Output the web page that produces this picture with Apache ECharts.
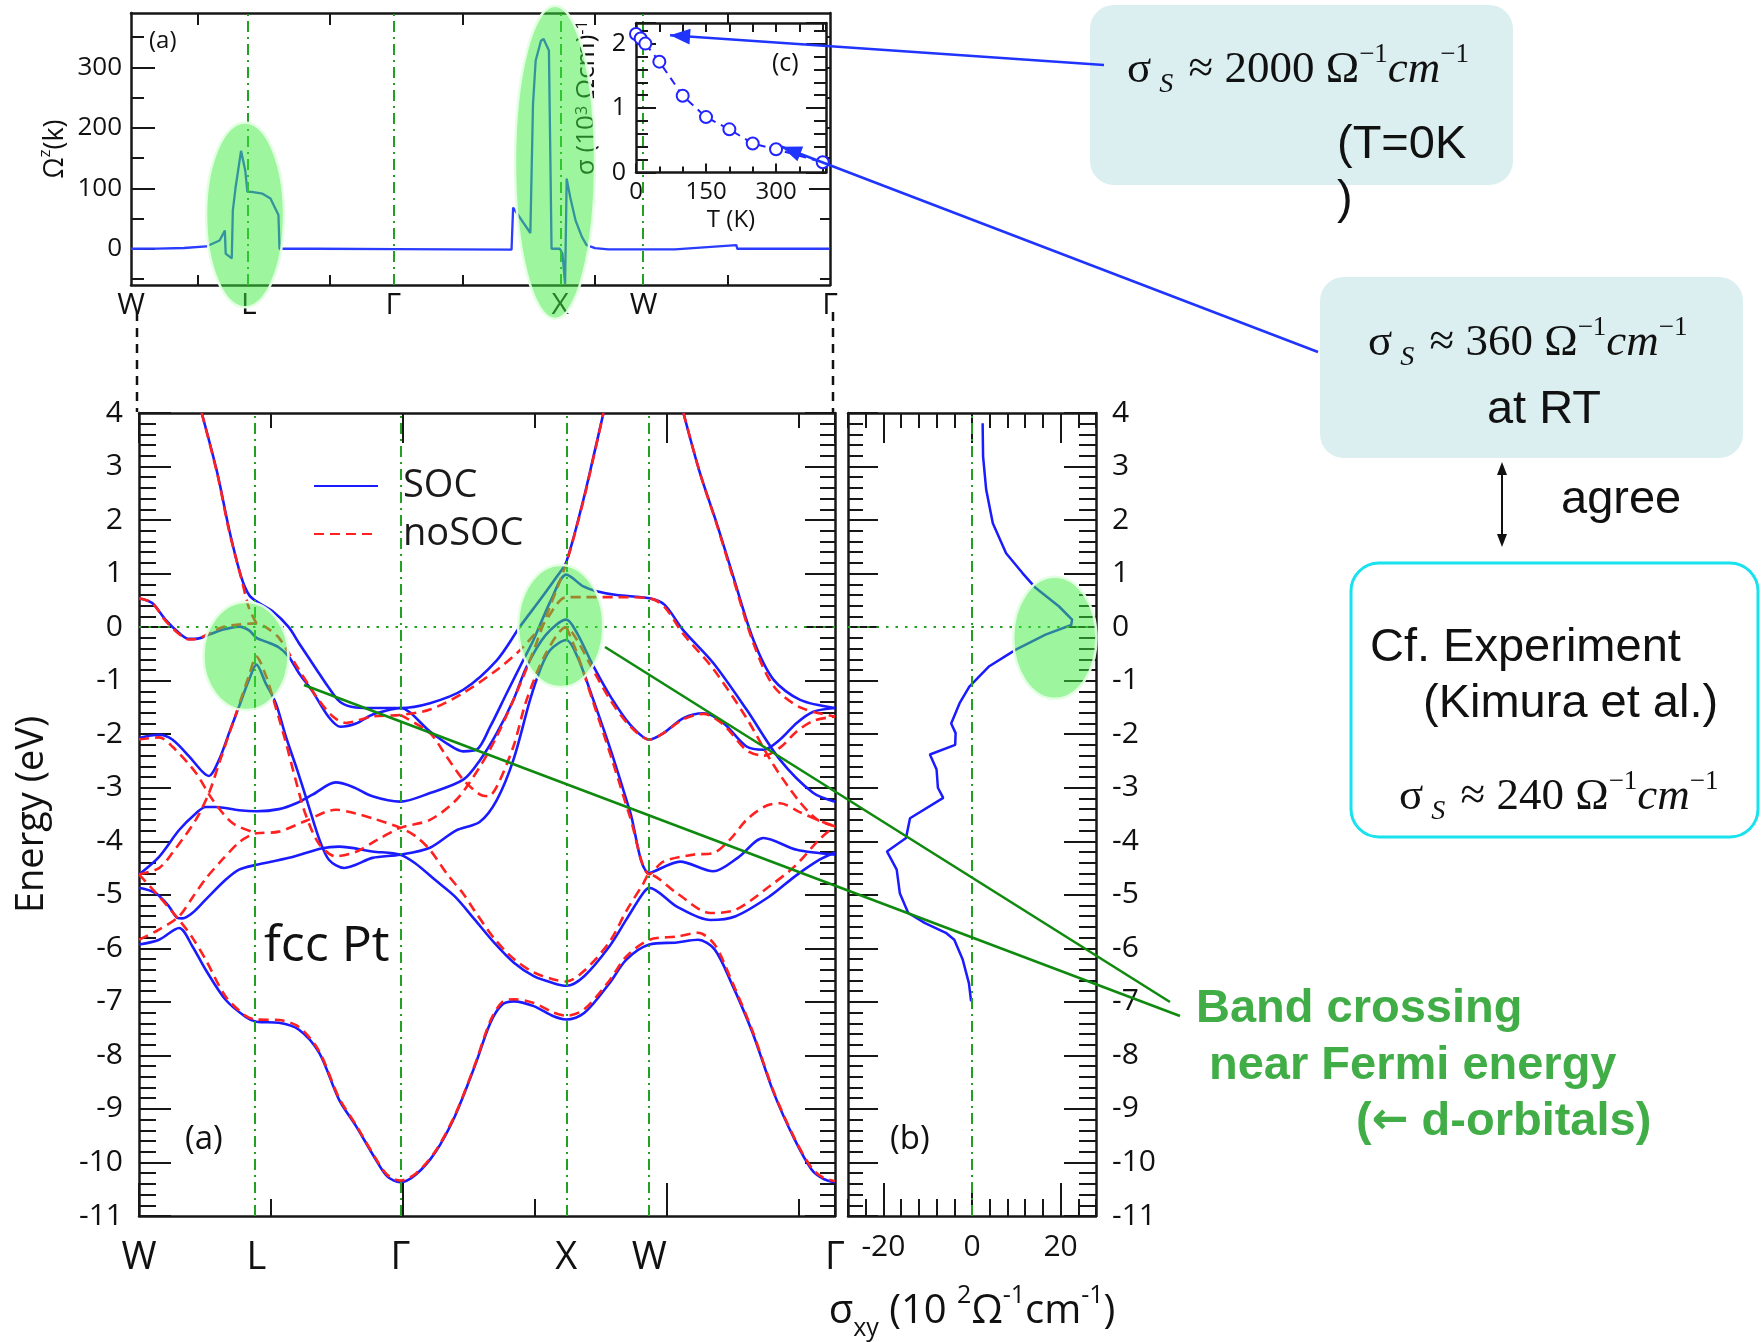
<!DOCTYPE html>
<html>
<head>
<meta charset="utf-8">
<title>fcc Pt: band structure, Berry curvature and spin Hall conductivity</title>
<script src="https://cdn.jsdelivr.net/npm/echarts@6.0.0/dist/echarts.min.js"></script>
<style>
html,body{margin:0;padding:0;background:#ffffff;}
#chart{width:1762px;height:1342px;}
</style>
</head>
<body>
<div id="chart"></div>
<script>
// ================= DATA =================
// high-symmetry path W-L-Γ-X-W-Γ (k in path-length units)
const kPoints = [0, 0.4447, 0.9895, 1.6185, 1.933, 2.636];
const kLabels = ['W', 'L', 'Γ', 'X', 'W', 'Γ'];
const kMax = 2.636;

// (a-top) Berry curvature Ω^z(k) along the path
const berryCurve = [[0,0],[0.10,0.3],[0.20,1.2],[0.284,3.8],[0.334,13.6],[0.354,30],[0.357,-8],[0.380,-16],[0.384,63],[0.394,100],[0.415,162],[0.420,165],[0.431,129],[0.439,94],[0.455,94],[0.496,91],[0.526,83],[0.556,56],[0.560,0],[0.70,0],[1.00,-0.5],[1.435,-1.6],[1.441,68],[1.506,26],[1.516,239],[1.526,311],[1.546,344],[1.556,347],[1.576,328],[1.586,0],[1.617,0],[1.627,-8],[1.637,-58],[1.643,116],[1.657,84],[1.677,46],[1.700,20],[1.718,6],[1.75,1],[1.80,-1],[2.051,-1],[2.055,2],[2.283,6],[2.286,0],[2.636,0]];

// (c) spin Hall conductivity vs temperature
const tempK  = [0, 10, 20, 50, 100, 150, 200, 250, 300, 400];
const sigmaS = [2.15, 2.08, 2.0, 1.72, 1.19, 0.86, 0.67, 0.45, 0.36, 0.16];

// (b) σxy(E)
const sxyE = [3.81, 3.19, 2.57, 1.94, 1.38, 1.01, 0.73, 0.39, 0.14, 0.04, -0.14, -0.42, -0.73, -1.11, -1.42, -1.80, -1.98, -2.20, -2.38, -2.66, -3.0, -3.19, -3.57, -3.94, -4.19, -4.53, -4.97, -5.34, -5.53, -5.71, -5.84, -6.21, -6.65, -6.99];
const sxyV = [2.4, 2.5, 3.2, 4.7, 7.7, 11.4, 14.4, 19.6, 22.6, 22.4, 16.6, 9.9, 3.9, -0.6, -2.8, -4.7, -3.7, -3.8, -9.5, -8.0, -7.7, -6.5, -14.0, -14.9, -19.2, -17.0, -16.3, -14.4, -10.6, -5.9, -4.0, -2.1, -0.7, -0.2];

// (a) bands with spin-orbit coupling  [k, E(eV)]
const soc1 = [[0,-5.93],[0.076,-5.84],[0.152,-5.62],[0.202,-5.96],[0.2525,-6.40],[0.328,-6.96],[0.404,-7.28],[0.4447,-7.37],[0.53,-7.39],[0.606,-7.52],[0.682,-7.95],[0.758,-8.83],[0.822,-9.32],[0.896,-9.94],[0.94,-10.26],[0.9895,-10.37],[1.05,-10.22],[1.121,-9.82],[1.196,-9.14],[1.271,-8.21],[1.331,-7.39],[1.376,-7.05],[1.42,-6.99],[1.495,-7.08],[1.57,-7.27],[1.6185,-7.33],[1.686,-7.21],[1.782,-6.65],[1.846,-6.21],[1.933,-5.93],[2.037,-5.89],[2.117,-5.84],[2.18,-6.02],[2.244,-6.65],[2.324,-7.58],[2.404,-8.70],[2.483,-9.57],[2.547,-10.13],[2.59,-10.30],[2.636,-10.37]];
const soc2 = [[0,-4.87],[0.063,-4.97],[0.114,-5.22],[0.145,-5.43],[0.165,-5.44],[0.202,-5.34],[0.2525,-5.09],[0.328,-4.72],[0.379,-4.53],[0.4447,-4.44],[0.568,-4.31],[0.694,-4.13],[0.758,-4.10],[0.884,-4.19],[0.9895,-4.25],[1.046,-4.41],[1.121,-4.72],[1.196,-5.03],[1.271,-5.46],[1.346,-5.90],[1.42,-6.27],[1.495,-6.52],[1.57,-6.65],[1.6185,-6.70],[1.686,-6.52],[1.782,-5.96],[1.846,-5.46],[1.909,-4.97],[1.933,-4.87],[2.037,-5.22],[2.164,-5.47],[2.26,-5.40],[2.388,-5.03],[2.483,-4.66],[2.579,-4.34],[2.636,-4.21]];
const soc3 = [[0,-4.62],[0.076,-4.29],[0.152,-3.79],[0.215,-3.48],[0.2525,-3.36],[0.29,-3.36],[0.379,-3.42],[0.4447,-3.44],[0.53,-3.40],[0.6,-3.28],[0.657,-3.13],[0.745,-2.90],[0.808,-2.98],[0.884,-3.16],[0.9895,-3.26],[1.102,-3.10],[1.228,-2.85],[1.292,-2.48],[1.355,-1.98],[1.418,-1.36],[1.468,-0.74],[1.54,-0.15],[1.6185,0.14],[1.66,-0.12],[1.72,-0.72],[1.79,-1.33],[1.86,-1.82],[1.933,-2.10],[1.986,-1.98],[2.062,-1.70],[2.138,-1.61],[2.213,-1.79],[2.301,-2.23],[2.365,-2.29],[2.428,-2.10],[2.491,-1.79],[2.554,-1.58],[2.636,-1.51]];
const soc4 = [[0,-2.07],[0.076,-2.01],[0.126,-2.10],[0.189,-2.41],[0.24,-2.70],[0.265,-2.78],[0.303,-2.48],[0.341,-1.98],[0.379,-1.48],[0.417,-0.98],[0.4447,-0.70],[0.48,-1.05],[0.518,-1.42],[0.556,-2.04],[0.6,-2.68],[0.64,-3.30],[0.682,-3.95],[0.72,-4.35],[0.777,-4.50],[0.821,-4.44],[0.884,-4.31],[0.9895,-4.25],[1.102,-4.12],[1.2,-3.80],[1.29,-3.64],[1.355,-3.23],[1.418,-2.48],[1.481,-1.36],[1.519,-0.80],[1.557,-0.43],[1.6185,-0.24],[1.66,-0.55],[1.72,-1.35],[1.79,-2.35],[1.86,-3.45],[1.933,-4.59],[2.049,-4.38],[2.175,-4.56],[2.27,-4.30],[2.365,-3.94],[2.491,-4.16],[2.636,-4.25]];
const soc5 = [[0,0.54],[0.05,0.45],[0.10,0.14],[0.152,-0.11],[0.189,-0.22],[0.227,-0.21],[0.265,-0.14],[0.316,-0.05],[0.379,0.01],[0.417,-0.06],[0.4447,-0.20],[0.48,-0.27],[0.53,-0.38],[0.567,-0.55],[0.606,-0.86],[0.657,-1.20],[0.717,-1.67],[0.762,-1.86],[0.822,-1.80],[0.881,-1.64],[0.953,-1.54],[0.9895,-1.51],[1.102,-1.95],[1.165,-2.17],[1.228,-2.32],[1.279,-2.29],[1.33,-1.86],[1.393,-1.23],[1.456,-0.61],[1.494,-0.24],[1.56,0.50],[1.6185,0.98],[1.683,0.76],[1.733,0.67],[1.809,0.60],[1.933,0.54],[1.99,0.42],[2.06,-0.05],[2.175,-0.67],[2.301,-1.54],[2.428,-2.48],[2.554,-3.10],[2.636,-3.26]];
const soc6 = [[0.2375,4.0],[0.297,2.87],[0.342,1.81],[0.387,0.94],[0.417,0.60],[0.4447,0.48],[0.505,0.30],[0.567,0.0],[0.606,-0.30],[0.672,-0.79],[0.717,-1.12],[0.762,-1.40],[0.821,-1.50],[0.896,-1.51],[0.9895,-1.51],[1.102,-1.42],[1.228,-1.17],[1.355,-0.62],[1.443,0.01],[1.519,0.51],[1.582,0.94],[1.6185,1.22],[1.683,2.38],[1.721,3.18],[1.759,4.0]];
const soc7 = [[2.062,4.0],[2.125,2.87],[2.188,1.94],[2.251,0.94],[2.327,-0.24],[2.403,-0.98],[2.504,-1.36],[2.636,-1.51]];

// (a) bands without spin-orbit coupling  [k, E(eV)]
const ns1 = [[0,-4.62],[0.076,-5.03],[0.152,-5.47],[0.202,-5.80],[0.2525,-6.21],[0.328,-6.90],[0.404,-7.26],[0.4447,-7.33],[0.53,-7.34],[0.606,-7.47],[0.682,-7.92],[0.758,-8.80],[0.822,-9.30],[0.896,-9.92],[0.94,-10.23],[0.9895,-10.34],[1.05,-10.20],[1.121,-9.80],[1.196,-9.12],[1.271,-8.19],[1.331,-7.35],[1.376,-7.00],[1.42,-6.95],[1.495,-7.02],[1.57,-7.20],[1.6185,-7.26],[1.686,-7.14],[1.782,-6.60],[1.846,-6.15],[1.933,-5.84],[2.037,-5.78],[2.117,-5.71],[2.18,-5.93],[2.244,-6.60],[2.324,-7.55],[2.404,-8.68],[2.483,-9.55],[2.547,-10.10],[2.59,-10.28],[2.636,-10.35]];
const ns2 = [[0,-5.84],[0.076,-5.65],[0.152,-5.40],[0.2025,-5.05],[0.2525,-4.70],[0.316,-4.34],[0.379,-4.02],[0.417,-3.90],[0.4447,-3.85],[0.53,-3.82],[0.631,-3.62],[0.745,-3.41],[0.82,-3.48],[0.884,-3.57],[0.9895,-3.75],[1.046,-3.90],[1.102,-4.16],[1.165,-4.60],[1.228,-4.98],[1.271,-5.30],[1.346,-5.82],[1.42,-6.20],[1.495,-6.45],[1.57,-6.58],[1.6185,-6.62],[1.686,-6.42],[1.782,-5.88],[1.846,-5.30],[1.909,-4.80],[1.933,-4.62],[2.037,-4.97],[2.164,-5.34],[2.26,-5.28],[2.388,-4.84],[2.483,-4.47],[2.58,-3.95],[2.636,-3.72]];
const ns3 = [[0,-2.10],[0.076,-2.06],[0.126,-2.23],[0.215,-2.72],[0.278,-3.22],[0.354,-3.66],[0.4447,-3.85]];
const ns4 = [[0,-4.62],[0.076,-4.50],[0.126,-4.22],[0.215,-3.60],[0.265,-3.10],[0.303,-2.55],[0.341,-2.00],[0.379,-1.45],[0.417,-0.90],[0.4447,-0.55],[0.48,-0.90],[0.518,-1.50],[0.556,-2.15],[0.593,-2.85],[0.631,-3.50],[0.682,-4.05],[0.745,-4.28],[0.82,-4.20],[0.90,-3.98],[0.9895,-3.75],[1.102,-3.60],[1.203,-3.22],[1.292,-2.60],[1.355,-2.04],[1.418,-1.36],[1.481,-0.61],[1.55,0.30],[1.6185,1.20],[1.683,2.36],[1.721,3.16],[1.759,4.0]];
const ns5 = [[0,0.54],[0.05,0.45],[0.10,0.12],[0.152,-0.13],[0.189,-0.23],[0.227,-0.21],[0.265,-0.12],[0.316,0.0],[0.379,0.05],[0.4447,0.07],[0.48,0.0],[0.53,-0.20],[0.6,-0.75],[0.672,-1.30],[0.73,-1.65],[0.783,-1.79],[0.884,-1.67],[0.9895,-1.64],[1.102,-1.54],[1.228,-1.23],[1.355,-0.80],[1.443,-0.43],[1.53,0.05],[1.6185,0.56],[1.683,0.56],[1.809,0.56],[1.933,0.54],[1.99,0.38],[2.06,-0.12],[2.175,-0.78],[2.301,-1.70],[2.40,-2.55],[2.50,-3.25],[2.57,-3.60],[2.636,-3.72]];
const ns6 = [[0.2375,4.0],[0.297,2.85],[0.342,1.78],[0.387,0.92],[0.417,0.35],[0.4447,0.07]];
const ns7 = [[0.9895,-1.64],[1.102,-1.98],[1.165,-2.42],[1.228,-2.85],[1.292,-3.13],[1.323,-3.16],[1.355,-2.98],[1.418,-2.23],[1.468,-1.36],[1.54,-0.50],[1.6185,0.0],[1.66,-0.25],[1.72,-0.80],[1.79,-1.40],[1.86,-1.85],[1.933,-2.10],[1.986,-1.98],[2.062,-1.72],[2.138,-1.62],[2.213,-1.82],[2.301,-2.30],[2.365,-2.40],[2.428,-2.25],[2.491,-1.95],[2.554,-1.75],[2.636,-1.67]];
const ns8 = [[1.6185,0.0],[1.66,-0.50],[1.72,-1.40],[1.79,-2.45],[1.86,-3.55],[1.933,-4.62],[1.986,-4.38],[2.10,-4.25],[2.175,-4.22],[2.238,-3.97],[2.301,-3.60],[2.37,-3.35],[2.428,-3.29],[2.50,-3.45],[2.58,-3.62],[2.636,-3.72]];
const ns9 = [[2.062,4.0],[2.125,2.87],[2.188,1.92],[2.251,0.90],[2.327,-0.30],[2.403,-1.10],[2.504,-1.50],[2.636,-1.67]];

// tick positions that are not regular from the axis minimum
const berryTickK = [0.25, 0.75, 1.25, 1.75, 2.25];
const berryMajor = [0, 100, 200, 300];
const berryMinor = [-50, 50, 150, 250, 350];
const sxyMajor = [-20, 0, 20];

// highlighted regions, in data units: [centre x, centre y, half-width, half-height]
const hlTop  = [[0.43, 56, 0.147, 153], [1.599, 143, 0.151, 259]];
const hlBand = [[0.405, -0.54, 0.161, 1.01], [1.597, 0.02, 0.161, 1.14]];
const hlSxy  = [[18.7, -0.2, 9.4, 1.14]];
// inset points the call-out arrows point to: [T, σ]
const arrowTargets = [[73, 2.13], [312, 0.40]];

// ================= STYLE =================
const FONT = "'Open Sans', 'Noto Sans', 'DejaVu Sans', sans-serif";
const SERIF = "'Liberation Serif', 'DejaVu Serif', serif";
const SANS = "'Liberation Sans', Arial, sans-serif";
const INK = '#171717';
const BLUE = '#1b1bff';
const RED = '#ff2020';
const GUIDE = '#22a022';
const DASHDOT = [11, 5, 2, 5];
const DOTS = [2.5, 7];
const tMax = 407, sMax = 2.32;

function mk(o) {
  const base = {
    type: 'value', splitLine: { show: false }, minorSplitLine: { show: false },
    axisLine: { show: false, onZero: false, lineStyle: { color: INK, width: 2.5 } },
    axisTick: { show: false }, axisLabel: { show: false }, minorTick: { show: false }
  };
  for (const k in o) {
    if (base[k] && typeof base[k] === 'object' && !Array.isArray(base[k]) && o[k] && typeof o[k] === 'object' && !Array.isArray(o[k])) {
      base[k] = Object.assign({}, base[k], o[k]);
    } else base[k] = o[k];
  }
  return base;
}
const LINE = { show: true, onZero: false, lineStyle: { color: INK, width: 2.5 } };
function tick(len, extra) { return Object.assign({ show: true, inside: true, length: len, lineStyle: { color: INK, width: 2 } }, extra || {}); }
function minor(len) { return { show: true, splitNumber: 5, length: len, lineStyle: { color: INK, width: 2 } }; }
function lbl(size, margin, extra) { return Object.assign({ show: true, fontSize: size, margin: margin, fontFamily: FONT, color: '#111' }, extra || {}); }
const kFmt = v => { const i = kPoints.findIndex(p => Math.abs(p - v) < 1e-6); return i >= 0 ? kLabels[i] : ''; };

const xAxis = [
  // 0,1 : top panel (Berry curvature)
  mk({ gridIndex: 0, min: 0, max: kMax, position: 'bottom', axisLine: LINE, axisTick: tick(10, { customValues: berryTickK }),
       axisLabel: lbl(30, 5, { customValues: kPoints, formatter: kFmt }) }),
  mk({ gridIndex: 0, min: 0, max: kMax, position: 'top', axisLine: LINE, axisTick: tick(12, { customValues: berryTickK }) }),
  // 2,3,4 : inset (c)
  mk({ gridIndex: 1, min: 0, max: tMax, interval: 150, position: 'bottom', axisLine: LINE, axisTick: tick(9), z: 6,
       axisLabel: lbl(24, 8, { formatter: v => (v % 150 === 0 ? String(v) : '') }),
       name: 'T (K)', nameLocation: 'middle', nameGap: 36, nameTextStyle: { fontSize: 24, fontFamily: FONT, color: '#111' } }),
  mk({ gridIndex: 1, min: 0, max: tMax, interval: 50, position: 'bottom', axisTick: tick(6), z: 6 }),
  mk({ gridIndex: 1, min: 0, max: tMax, interval: 50, position: 'top', axisLine: LINE, axisTick: tick(9), z: 6 }),
  // 5..9 : band structure
  mk({ gridIndex: 2, min: 0, max: kMax, interval: 1, position: 'bottom', axisLine: LINE, axisTick: tick(33) }),
  mk({ gridIndex: 2, min: 0, max: kMax, interval: 0.5, position: 'bottom', axisTick: tick(17) }),
  mk({ gridIndex: 2, min: 0, max: kMax, interval: 1, position: 'top', axisLine: LINE, axisTick: tick(30) }),
  mk({ gridIndex: 2, min: 0, max: kMax, interval: 0.5, position: 'top', axisTick: tick(15) }),
  mk({ gridIndex: 2, min: 0, max: kMax, position: 'bottom', axisLabel: lbl(38, 23, { customValues: kPoints, formatter: kFmt }) }),
  // 10..13 : σxy panel
  mk({ gridIndex: 3, min: -28, max: 28, position: 'bottom', axisLine: LINE, axisTick: tick(33, { customValues: sxyMajor }),
       axisLabel: lbl(30, 16, { customValues: sxyMajor }),
       name: '{a|σ}{s|xy}{a| (10 }{u|2}{a|Ω}{u|-1}{a|cm}{u|-1}{a|)}', nameLocation: 'middle', nameGap: 67,
       nameTextStyle: { fontFamily: FONT, color: '#111', rich: {
         a: { fontSize: 40, fontFamily: FONT, color: '#111', lineHeight: 58, verticalAlign: 'middle' },
         s: { fontSize: 25, fontFamily: FONT, color: '#111', lineHeight: 58, verticalAlign: 'bottom' },
         u: { fontSize: 25, fontFamily: FONT, color: '#111', lineHeight: 58, verticalAlign: 'top' } } } }),
  mk({ gridIndex: 3, min: -28, max: 28, interval: 4, position: 'bottom', axisTick: tick(17) }),
  mk({ gridIndex: 3, min: -28, max: 28, position: 'top', axisLine: LINE, axisTick: tick(30, { customValues: sxyMajor }) }),
  mk({ gridIndex: 3, min: -28, max: 28, interval: 4, position: 'top', axisTick: tick(15) })
];

const yAxis = [
  // 0..3 : top panel
  mk({ gridIndex: 0, min: -60, max: 390, position: 'left', axisLine: LINE, axisTick: tick(24, { customValues: berryMajor }),
       axisLabel: lbl(26, 9, { customValues: berryMajor }),
       name: '{o|Ω}{s|z}{o|(k)}', nameLocation: 'middle', nameRotate: 90, nameGap: 58,
       nameTextStyle: { fontFamily: FONT, color: '#111', rich: {
         o: { fontSize: 27, fontFamily: FONT, color: '#111', lineHeight: 36, verticalAlign: 'middle' },
         s: { fontSize: 17, fontFamily: FONT, color: '#111', lineHeight: 36, verticalAlign: 'top' } } } }),
  mk({ gridIndex: 0, min: -60, max: 390, position: 'left', axisTick: tick(13, { customValues: berryMinor }) }),
  mk({ gridIndex: 0, min: -60, max: 390, position: 'right', axisLine: LINE, axisTick: tick(21, { customValues: berryMajor }) }),
  mk({ gridIndex: 0, min: -60, max: 390, position: 'right', axisTick: tick(10, { customValues: berryMinor }) }),
  // 4..7 : inset (c)
  mk({ gridIndex: 1, min: 0, max: sMax, interval: 1, position: 'left', axisLine: LINE, axisTick: tick(20), z: 6,
       axisLabel: lbl(25, 10, { formatter: v => (Number.isInteger(v) ? String(v) : '') }),
       name: 'σ (10{u|3} Ωcm){u|-1}', nameLocation: 'middle', nameRotate: 90, nameGap: 36,
       nameTextStyle: { fontSize: 26, fontFamily: FONT, color: '#111', rich: {
         u: { fontSize: 16, fontFamily: FONT, color: '#111', verticalAlign: 'top' } } } }),
  mk({ gridIndex: 1, min: 0, max: sMax, interval: 0.2, position: 'left', axisTick: tick(12), z: 6 }),
  mk({ gridIndex: 1, min: 0, max: sMax, interval: 1, position: 'right', axisLine: LINE, axisTick: tick(20), z: 6 }),
  mk({ gridIndex: 1, min: 0, max: sMax, interval: 0.2, position: 'right', axisTick: tick(12), z: 6 }),
  // 8,9 : band structure
  mk({ gridIndex: 2, min: -11, max: 4, interval: 1, position: 'left', axisLine: LINE, axisTick: tick(32), minorTick: minor(17),
       axisLabel: lbl(30, 16), name: 'Energy (eV)', nameLocation: 'middle', nameRotate: 90, nameGap: 88,
       nameTextStyle: { fontSize: 38, fontFamily: FONT, color: '#111' } }),
  mk({ gridIndex: 2, min: -11, max: 4, interval: 1, position: 'right', axisLine: LINE, axisTick: tick(30), minorTick: minor(15) }),
  // 10,11 : σxy panel
  mk({ gridIndex: 3, min: -11, max: 4, interval: 1, position: 'left', axisLine: LINE, axisTick: tick(30), minorTick: minor(15) }),
  mk({ gridIndex: 3, min: -11, max: 4, interval: 1, position: 'right', axisLine: LINE, axisTick: tick(32), minorTick: minor(17),
       axisLabel: lbl(30, 16) })
];

function ellipseItem(params, api) {
  const c = api.coord([api.value(0), api.value(1)]);
  const s = api.size([api.value(2), api.value(3)]);
  return { type: 'ellipse', shape: { cx: c[0], cy: c[1], rx: s[0], ry: s[1] },
           style: { fill: 'rgba(60,236,60,0.5)', stroke: 'rgba(228,255,228,0.95)', lineWidth: 2.5 } };
}
function guideLines(verticals, horizontals) {
  const d = [];
  verticals.forEach(v => d.push({ xAxis: v, lineStyle: { color: GUIDE, width: 2, type: DASHDOT } }));
  horizontals.forEach(h => d.push({ yAxis: h, lineStyle: { color: GUIDE, width: 2.2, type: DOTS } }));
  return { silent: true, symbol: ['none', 'none'], label: { show: false }, animation: false, data: d };
}

const series = [];
// top panel
series.push({ type: 'line', name: 'berry', xAxisIndex: 0, yAxisIndex: 0, data: berryCurve, symbol: 'none',
  lineStyle: { color: '#2a3cff', width: 2.3 }, z: 3, silent: true,
  markLine: guideLines(kPoints.slice(1, 5), []) });
series.push({ type: 'custom', name: 'hlTop', xAxisIndex: 0, yAxisIndex: 0, data: hlTop, renderItem: ellipseItem, z: 10, silent: true, clip: false });
// inset
series.push({ type: 'line', name: 'sigmaT', xAxisIndex: 2, yAxisIndex: 4, z: 7, silent: true,
  data: tempK.map((t, i) => [t, sigmaS[i]]), symbol: 'emptyCircle', symbolSize: 12,
  lineStyle: { color: '#2323ff', width: 2, type: [8, 6] }, itemStyle: { color: '#2323ff', borderWidth: 2 } });
// bands
[soc1, soc2, soc3, soc4, soc5, soc6, soc7].forEach((d, i) => series.push({
  type: 'line', name: 'SOC', xAxisIndex: 5, yAxisIndex: 8, data: d, symbol: 'none', smooth: 0.3,
  lineStyle: { color: BLUE, width: 2.6 }, itemStyle: { color: BLUE }, z: 3, silent: true,
  markLine: i === 0 ? guideLines(kPoints.slice(1, 5), [0]) : undefined }));
[ns1, ns2, ns3, ns4, ns5, ns6, ns7, ns8, ns9].forEach(d => series.push({
  type: 'line', name: 'noSOC', xAxisIndex: 5, yAxisIndex: 8, data: d, symbol: 'none', smooth: 0.3,
  lineStyle: { color: RED, width: 2.6, type: [10, 6] }, itemStyle: { color: RED }, z: 4, silent: true }));
series.push({ type: 'custom', name: 'hlBand', xAxisIndex: 5, yAxisIndex: 8, data: hlBand, renderItem: ellipseItem, z: 10, silent: true, clip: false });
// σxy panel
series.push({ type: 'line', name: 'sxy', xAxisIndex: 10, yAxisIndex: 11, data: sxyV.map((v, i) => [v, sxyE[i]]),
  symbol: 'none', lineStyle: { color: BLUE, width: 2.5 }, z: 3, silent: true, markLine: guideLines([0], [0]) });
series.push({ type: 'custom', name: 'hlSxy', xAxisIndex: 10, yAxisIndex: 11, data: hlSxy, renderItem: ellipseItem, z: 10, silent: true, clip: false });

const option = {
  animation: false,
  backgroundColor: '#ffffff',
  grid: [
    { left: 131, top: 13, width: 699, height: 272, outerBoundsMode: 'none', containLabel: false },
    { left: 636, top: 23, width: 190, height: 149.5, show: true, backgroundColor: '#ffffff', borderWidth: 0, z: 5, outerBoundsMode: 'none', containLabel: false },
    { left: 139, top: 413, width: 696, height: 803, outerBoundsMode: 'none', containLabel: false },
    { left: 848, top: 413, width: 248, height: 803, outerBoundsMode: 'none', containLabel: false }
  ],
  legend: {
    data: ['SOC', 'noSOC'], left: 308, top: 462, orient: 'vertical', itemWidth: 64, itemHeight: 14, itemGap: 10,
    selectedMode: false, itemStyle: { opacity: 0, borderWidth: 0 },
    textStyle: { fontSize: 38, fontFamily: FONT, color: '#1a1a1a', padding: [0, 0, 0, 20] }
  },
  xAxis: xAxis,
  yAxis: yAxis,
  series: series
};

const chart = echarts.init(document.getElementById('chart'), null, { renderer: 'canvas' });
chart.setOption(option);

// ================= ANNOTATIONS =================
function head(tip, from, len, half) {
  const dx = tip[0] - from[0], dy = tip[1] - from[1], L = Math.hypot(dx, dy);
  const ux = dx / L, uy = dy / L, bx = tip[0] - ux * len, by = tip[1] - uy * len;
  return [[tip[0], tip[1]], [bx - uy * half, by + ux * half], [bx + uy * half, by - ux * half]];
}
function txt(x, y, text, size, opts) {
  const o = opts || {};
  return { type: 'text', x: x, y: y, z: 60, silent: true, style: Object.assign({
    text: text, fontSize: size, fontFamily: o.family || SANS, fontWeight: o.weight || 'normal', fill: o.fill || '#111',
    align: o.align || 'left', verticalAlign: 'middle', textAlign: o.align || 'left', textVerticalAlign: 'middle' }, o.extra || {}) };
}
function formula(x, y, num) {
  const base = { fontFamily: SERIF, fill: '#111', lineHeight: 58 };
  return { type: 'text', x: x, y: y, z: 60, silent: true, style: {
    text: '{a|σ}{b|S}{a| ≈ ' + num + ' Ω}{c|−1}{d|cm}{c|−1}', align: 'left', verticalAlign: 'middle', textAlign: 'left', textVerticalAlign: 'middle',
    rich: {
      a: Object.assign({ fontSize: 45, verticalAlign: 'middle' }, base),
      b: Object.assign({ fontSize: 28, fontStyle: 'italic', verticalAlign: 'bottom', padding: [0, 4, 0, 8] }, base),
      c: Object.assign({ fontSize: 27, verticalAlign: 'top' }, base),
      d: Object.assign({ fontSize: 45, fontStyle: 'italic', verticalAlign: 'middle' }, base)
    } } };
}

const p1 = chart.convertToPixel({ xAxisIndex: 2, yAxisIndex: 4 }, arrowTargets[0]);
const p2 = chart.convertToPixel({ xAxisIndex: 2, yAxisIndex: 4 }, arrowTargets[1]);
const a1 = [1104, 65], a2 = [1318, 352];
const ARROW = '#1f35ff';
const GREENTXT = '#41ad47';
const dbl = [[1502, 462], [1502, 547]];
const G = [
  // black dashed connectors between panels
  { type: 'line', z: 20, silent: true, shape: { x1: 137, y1: 312, x2: 137, y2: 412 }, style: { stroke: '#111', lineWidth: 2.5, lineDash: [9, 7] } },
  { type: 'line', z: 20, silent: true, shape: { x1: 833, y1: 312, x2: 833, y2: 412 }, style: { stroke: '#111', lineWidth: 2.5, lineDash: [9, 7] } },
  // green call-out lines
  { type: 'line', z: 40, silent: true, shape: { x1: 304, y1: 685, x2: 1180, y2: 1016 }, style: { stroke: '#0f8a0f', lineWidth: 2.6 } },
  { type: 'line', z: 40, silent: true, shape: { x1: 605, y1: 647, x2: 1170, y2: 1002 }, style: { stroke: '#0f8a0f', lineWidth: 2.6 } },
  // boxes
  { type: 'rect', z: 30, silent: true, shape: { x: 1090, y: 5, width: 423, height: 180, r: 24 }, style: { fill: '#dbeff0' } },
  { type: 'rect', z: 30, silent: true, shape: { x: 1320, y: 277, width: 423, height: 181, r: 24 }, style: { fill: '#dbeff0' } },
  { type: 'rect', z: 30, silent: true, shape: { x: 1351, y: 563, width: 407, height: 274, r: 28 }, style: { fill: '#ffffff', stroke: '#17e2ee', lineWidth: 3 } },
  // blue arrows
  { type: 'line', z: 45, silent: true, shape: { x1: a1[0], y1: a1[1], x2: p1[0], y2: p1[1] }, style: { stroke: ARROW, lineWidth: 2.6 } },
  { type: 'polygon', z: 45, silent: true, shape: { points: head(p1, a1, 20, 8) }, style: { fill: ARROW } },
  { type: 'line', z: 45, silent: true, shape: { x1: a2[0], y1: a2[1], x2: p2[0], y2: p2[1] }, style: { stroke: ARROW, lineWidth: 2.6 } },
  { type: 'polygon', z: 45, silent: true, shape: { points: head(p2, a2, 20, 8) }, style: { fill: ARROW } },
  // double arrow
  { type: 'line', z: 45, silent: true, shape: { x1: dbl[0][0], y1: dbl[0][1] + 10, x2: dbl[1][0], y2: dbl[1][1] - 10 }, style: { stroke: '#111', lineWidth: 2 } },
  { type: 'polygon', z: 45, silent: true, shape: { points: head(dbl[0], dbl[1], 13, 5) }, style: { fill: '#111' } },
  { type: 'polygon', z: 45, silent: true, shape: { points: head(dbl[1], dbl[0], 13, 5) }, style: { fill: '#111' } },
  // texts
  formula(1127, 70, '2000'),
  txt(1337, 145, '(T=0K', 47),
  txt(1337, 200, ')', 47),
  formula(1368, 343, '360'),
  txt(1544, 410, 'at RT', 47, { align: 'center' }),
  txt(1561, 500, 'agree', 47),
  txt(1370, 648, 'Cf. Experiment', 47),
  txt(1423, 704, '(Kimura et al.)', 47),
  formula(1399, 797, '240'),
  txt(1196, 1009, 'Band crossing', 47, { weight: 'bold', fill: GREENTXT }),
  txt(1209, 1066, 'near Fermi energy', 47, { weight: 'bold', fill: GREENTXT }),
  { type: 'text', x: 1356, y: 1122, z: 60, silent: true, style: {
      text: '{p|(}{r|←}{p| d-orbitals)}', align: 'left', verticalAlign: 'middle', textAlign: 'left', textVerticalAlign: 'middle',
      rich: { p: { fontSize: 47, fontFamily: SANS, fontWeight: 'bold', fill: GREENTXT },
              r: { fontSize: 44, fontFamily: "'DejaVu Sans', sans-serif", fontWeight: 'bold', fill: GREENTXT } } } },
  // panel tags
  txt(264, 947, 'fcc Pt', 50, { family: FONT }),
  txt(185, 1140, '(a)', 33, { family: FONT }),
  txt(890, 1140, '(b)', 33, { family: FONT }),
  txt(149, 41, '(a)', 24, { family: FONT }),
  txt(772, 64, '(c)', 25, { family: FONT })
];
chart.setOption({ graphic: { elements: G } });
</script>
</body>
</html>
